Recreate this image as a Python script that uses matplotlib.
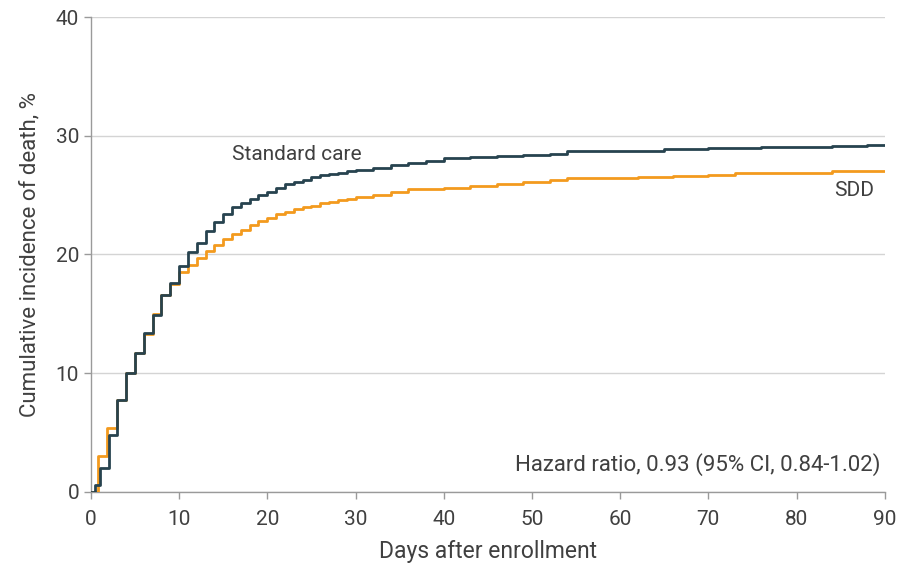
import matplotlib
matplotlib.use("Agg")
import matplotlib.pyplot as plt

# cumulative incidence of death (%) by day after enrollment
std_days = [0, 0.5, 1, 2, 3, 4, 5, 6, 7, 8, 9, 10, 11, 12, 13, 14, 15, 16, 17, 18,
            19, 20, 21, 22, 23, 24, 25, 26, 27, 28, 29, 30, 32, 34, 36, 38, 40, 43,
            46, 49, 52, 54, 60, 65, 70, 76, 84, 88, 90]
std_inc = [0, 0.6, 2.0, 4.8, 7.7, 10.0, 11.7, 13.4, 14.9, 16.6, 17.6, 19.0, 20.2, 21.0,
           22.0, 22.7, 23.4, 24.0, 24.3, 24.7, 25.0, 25.3, 25.6, 25.9, 26.1, 26.3, 26.5,
           26.7, 26.8, 26.9, 27.0, 27.1, 27.3, 27.5, 27.7, 27.9, 28.1, 28.2, 28.3, 28.4,
           28.5, 28.7, 28.75, 28.85, 28.95, 29.05, 29.15, 29.2, 29.2]

sdd_days = [0, 0.8, 1.8, 3, 4, 5, 6, 7, 8, 9, 10, 11, 12, 13, 14, 15, 16, 17, 18, 19,
            20, 21, 22, 23, 24, 25, 26, 27, 28, 29, 30, 32, 34, 36, 40, 43, 46, 49, 52,
            54, 62, 66, 70, 73, 78, 84, 90]
sdd_inc = [0, 3.0, 5.4, 7.7, 10.0, 11.7, 13.3, 15.0, 16.6, 17.5, 18.5, 19.1, 19.7, 20.3,
           20.8, 21.3, 21.7, 22.1, 22.5, 22.8, 23.1, 23.4, 23.6, 23.8, 24.0, 24.1, 24.3,
           24.4, 24.6, 24.7, 24.8, 25.0, 25.3, 25.5, 25.6, 25.8, 25.9, 26.1, 26.3, 26.4,
           26.5, 26.6, 26.7, 26.85, 26.9, 27.0, 27.0]

x_ticks = [0, 10, 20, 30, 40, 50, 60, 70, 80, 90]
y_ticks = [0, 10, 20, 30, 40]

DARK = "#27434f"
ORANGE = "#f39a1e"
TXT = "#404040"

plt.rcParams["font.family"] = ["Roboto", "DejaVu Sans"]

fig = plt.figure(figsize=(9, 5.68), dpi=100)
ax = fig.add_axes([0.101, 0.134, 0.882, 0.836])

ax.step(sdd_days, sdd_inc, where="post", color=ORANGE, lw=2.0, zorder=3)
ax.step(std_days, std_inc, where="post", color=DARK, lw=2.0, zorder=4)

ax.set_xlim(0, 90)
ax.set_ylim(0, 40)
ax.set_xticks(x_ticks)
ax.set_yticks(y_ticks)
ax.yaxis.grid(True, color="#d4d4d4", lw=1.0)
ax.set_axisbelow(True)

for side in ("top", "right"):
    ax.spines[side].set_visible(False)
for side in ("left", "bottom"):
    ax.spines[side].set_color("#9a9a9a")
    ax.spines[side].set_linewidth(1.0)
ax.tick_params(colors="#9a9a9a", labelcolor=TXT, labelsize=15, length=5, width=1)
ax.tick_params(axis="x", pad=8)

ax.set_xlabel("Days after enrollment", fontsize=16.5, color=TXT, labelpad=8)
ax.set_ylabel("Cumulative incidence of death, %", fontsize=16, color=TXT)
ax.yaxis.set_label_coords(-0.064, 0.5)

ax.text(16, 28.4, "Standard care", fontsize=15, color=TXT, va="center", ha="left")
ax.text(88.8, 25.4, "SDD", fontsize=15, color=TXT, va="center", ha="right")
ax.text(89.5, 2.3, "Hazard ratio, 0.93 (95% CI, 0.84-1.02)", fontsize=16, color=TXT,
        va="center", ha="right")

fig.savefig("out.png", dpi=100)
